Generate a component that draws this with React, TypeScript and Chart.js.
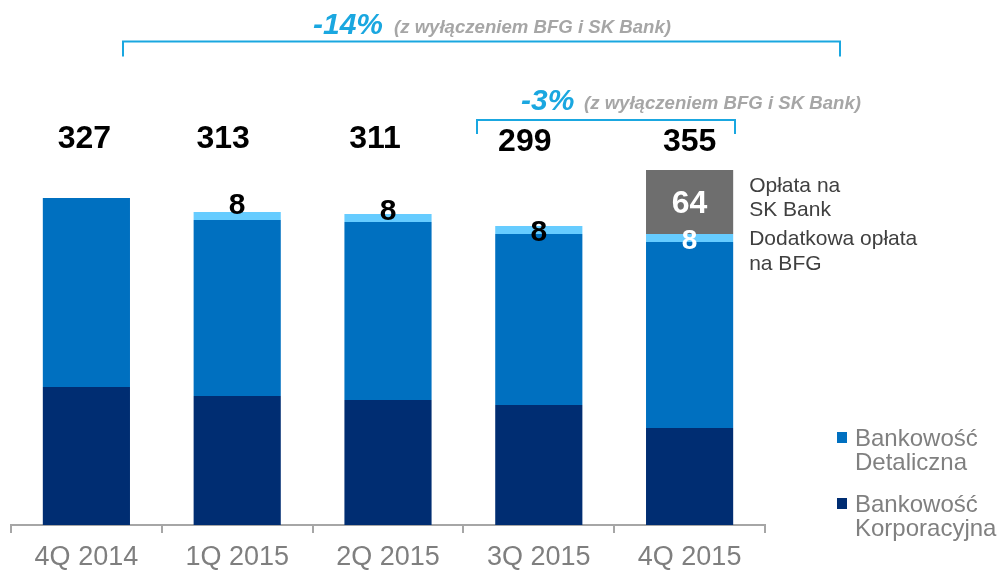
import { useEffect, useRef } from "react";
import { Chart, registerables } from "chart.js";

Chart.register(...registerables);

const FONT = '"Liberation Sans", Arial, Helvetica, sans-serif';

const categories = ["4Q 2014", "1Q 2015", "2Q 2015", "3Q 2015", "4Q 2015"];
const corporate = [138, 129, 125, 120, 97];
const retail = [189, 176, 178, 171, 186];
const bfgFee = [null, 8, 8, 8, 8];
const skBankFee = [null, null, null, null, 64];

const corporateName = ["Bankowość", "Korporacyjna"];
const retailName = ["Bankowość", "Detaliczna"];
const bfgName = ["Dodatkowa opłata", "na BFG"];
const skName = ["Opłata na", "SK Bank"];

const changeLabels = ["-14%", "-3%"];
const changeNote = "(z wyłączeniem BFG i SK Bank)";

const COLORS = {
  corporate: "#002D72",
  retail: "#0070C0",
  bfg: "#66CCFF",
  sk: "#6E6E6E",
  cyan: "#1AA7E0",
  note: "#A6A6A6",
  axis: "#A6A6A6",
  tick: "#7F7F7F",
  legend: "#808080",
  annot: "#404040",
};

const overlayPlugin = {
  id: "overlay",
  afterDatasetsDraw(chart: any) {
    const ctx = chart.ctx as CanvasRenderingContext2D;
    const metas = [0, 1, 2, 3].map((i) => chart.getDatasetMeta(i));
    ctx.save();
    ctx.textBaseline = "alphabetic";

    // totals
    const totalDx = [-2, -14, -13, -14, 0];
    const totalY = [148, 148, 148, 151, 151];
    ctx.font = `bold 32px ${FONT}`;
    ctx.fillStyle = "#000";
    ctx.textAlign = "center";
    categories.forEach((_, i) => {
      const tot = corporate[i] + retail[i] + (bfgFee[i] || 0) + (skBankFee[i] || 0);
      const bar = metas[0].data[i];
      ctx.fillText(String(tot), bar.x + totalDx[i], totalY[i]);
    });

    // BFG labels
    const bfgDy = [0, 2, 6, 15, 15];
    bfgFee.forEach((v, i) => {
      if (v == null) return;
      const el = metas[2].data[i];
      const white = skBankFee[i] != null;
      ctx.font = `bold ${white ? 28 : 30}px ${FONT}`;
      ctx.fillStyle = white ? "#FFFFFF" : "#000000";
      ctx.fillText(String(v), el.x, el.y + bfgDy[i]);
    });

    // SK Bank labels
    skBankFee.forEach((v, i) => {
      if (v == null) return;
      const el = metas[3].data[i];
      ctx.font = `bold 32px ${FONT}`;
      ctx.fillStyle = "#FFFFFF";
      ctx.fillText(String(v), el.x, (el.y + el.base) / 2 + 11);
    });

    // right annotations
    const last = metas[3].data[categories.length - 1];
    const ax = last.x + last.width / 2 + 16;
    ctx.textAlign = "left";
    ctx.font = `21px ${FONT}`;
    ctx.fillStyle = COLORS.annot;
    ctx.fillText(skName[0], ax, 192);
    ctx.fillText(skName[1], ax, 216);
    ctx.fillText(bfgName[0], ax, 245);
    ctx.fillText(bfgName[1], ax, 270);

    // legend
    const legendItems = [
      { color: COLORS.retail, lines: retailName, y: 446 },
      { color: COLORS.corporate, lines: corporateName, y: 512 },
    ];
    ctx.font = `24px ${FONT}`;
    legendItems.forEach((it) => {
      ctx.fillStyle = it.color;
      ctx.fillRect(837, it.y - 14, 10, 11);
      ctx.fillStyle = COLORS.legend;
      ctx.fillText(it.lines[0], 855, it.y);
      ctx.fillText(it.lines[1], 855, it.y + 24);
    });

    // brackets
    ctx.strokeStyle = COLORS.cyan;
    ctx.lineWidth = 2;
    const bracket = (x1: number, x2: number, y: number, h: number) => {
      ctx.beginPath();
      ctx.moveTo(x1, y + h);
      ctx.lineTo(x1, y);
      ctx.lineTo(x2, y);
      ctx.lineTo(x2, y + h);
      ctx.stroke();
    };
    bracket(123, 840, 41.5, 15);
    bracket(477, 735, 120, 14);

    // change labels
    const heads = [
      { text: changeLabels[0], x: 313, y: 34, nx: 394, ny: 33 },
      { text: changeLabels[1], x: 521, y: 110, nx: 584, ny: 109 },
    ];
    heads.forEach((h) => {
      ctx.font = `italic bold 30px ${FONT}`;
      ctx.fillStyle = COLORS.cyan;
      ctx.fillText(h.text, h.x, h.y);
      ctx.font = `italic bold 18.6px ${FONT}`;
      ctx.fillStyle = COLORS.note;
      ctx.fillText(changeNote, h.nx, h.ny);
    });

    ctx.restore();
  },
};

export default function App() {
  const ref = useRef<HTMLCanvasElement | null>(null);

  useEffect(() => {
    if (!ref.current) return;
    const chart = new Chart(ref.current, {
      type: "bar",
      data: {
        labels: categories,
        datasets: [
          { label: corporateName.join(" "), data: corporate, backgroundColor: COLORS.corporate },
          { label: retailName.join(" "), data: retail, backgroundColor: COLORS.retail },
          { label: bfgName.join(" "), data: bfgFee as any, backgroundColor: COLORS.bfg },
          { label: skName.join(" "), data: skBankFee as any, backgroundColor: COLORS.sk },
        ],
      },
      options: {
        animation: false,
        responsive: false,
        maintainAspectRatio: false,
        layout: { padding: { left: 11, right: 233, top: 25, bottom: 0 } },
        datasets: { bar: { categoryPercentage: 1, barPercentage: 0.578, borderWidth: 0 } },
        plugins: { legend: { display: false }, tooltip: { enabled: false } },
        scales: {
          x: {
            stacked: true,
            grid: {
              display: true,
              drawOnChartArea: false,
              drawTicks: true,
              tickLength: 8,
              color: COLORS.axis,
              lineWidth: 2,
              offset: true,
            },
            border: { display: true, color: COLORS.axis, width: 2 },
            ticks: {
              color: COLORS.tick,
              font: { family: FONT, size: 27 },
              padding: 8,
              maxRotation: 0,
              autoSkip: false,
            },
            afterFit: (s: any) => {
              s.height = 45;
            },
          },
          y: { stacked: true, display: false, min: 0, max: 500 },
        },
      },
      plugins: [overlayPlugin],
    });
    return () => chart.destroy();
  }, []);

  return (
    <div style={{ position: "fixed", left: 0, top: 0, width: 998, height: 570, background: "#fff" }}>
      <canvas ref={ref} width={998} height={570} style={{ width: 998, height: 570, display: "block" }} />
    </div>
  );
}
